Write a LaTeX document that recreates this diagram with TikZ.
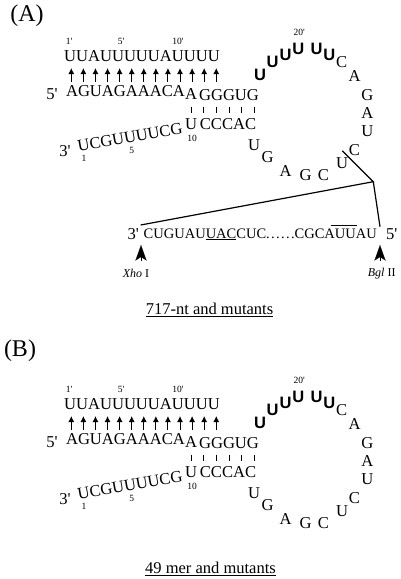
\documentclass[tikz,border=0pt]{standalone}
\usepackage{fontspec}
\setmainfont{Liberation Serif}
\setsansfont{Liberation Sans}
\usetikzlibrary{arrows.meta,positioning}
\newcommand{\pr}{\textquotesingle}

\begin{document}
\begin{tikzpicture}[
    x=1pt, y=-1pt,
    base/.style={inner sep=0pt, font=\fontsize{16.6}{18}\selectfont},
    boldbase/.style={inner sep=0pt, font=\sffamily\bfseries\fontsize{16.5}{18}\selectfont},
    seqline/.style={inner sep=0pt, font=\fontsize{14.5}{18}\selectfont},
    prime/.style={inner sep=0pt, font=\fontsize{16.6}{18}\selectfont},
    numlabel/.style={inner sep=0pt, font=\fontsize{9.5}{11}\selectfont},
    panel/.style={inner sep=0pt, font=\fontsize{24}{28}\selectfont},
    caption/.style={inner sep=0pt, font=\fontsize{16.5}{18}\selectfont},
    enzyme/.style={inner sep=0pt, font=\fontsize{12}{14}\selectfont},
    pairarrow/.style={line width=1pt,-{Latex[length=6pt,width=6pt]}},
    pairtick/.style={line width=0.6pt},
    linker/.style={line width=1.2pt},
    overbar/.style={line width=0.7pt},
    sitearrow/.style={line width=0.1pt,-{Stealth[length=15.5pt,width=11pt,inset=3.5pt]}}
]
\useasboundingbox (0,0) rectangle (400,579);

% Panel titles and captions
\node[panel] (panelA) at (27,16) {(A)};
\node[panel] (panelB) at (20,351) {(B)};
\node[caption] (capA) at (209.5,309.5) {\underline{717-nt and mutants}};
\node[caption] (capB) at (210.5,569) {\underline{49 mer and mutants}};

% Hairpin, the same in both panels
\foreach \p/\dy in {a/0,b/348} {
\begin{scope}[shift={(0,\dy)}]
    \node[numlabel] (\p one) at (69,41.5) {1\pr};
    \node[numlabel] (\p five) at (121,41.5) {5\pr};
    \node[numlabel] (\p ten) at (178,41.5) {10\pr};
    \node[numlabel] (\p twenty) at (299.3,32.3) {20\pr};
    \node[base] (\p top) at (142,56) {UUAUUUUUAUUUU};
    \node[prime] (\p fiveprime) at (52,94) {5\pr};
    \node[base] (\p lowA) at (125.5,91) {AGUAGAAACA};
    \node[base] (\p lowB) at (191,94) {A};
    \node[base] (\p lowC) at (229,95) {GGGUG};
    \node[base] (\p upA) at (191,124) {U};
    \node[base] (\p upB) at (228,124.5) {CCCAC};
    \node[base, rotate=10] (\p slant) at (130,137) {UCGUUUUCG};
    \node[prime] (\p threeprime) at (65,150.7) {3\pr};
    \node[numlabel] (\p nten) at (192,138) {10};
    \node[numlabel] (\p nfive) at (131.7,150.7) {5};
    \node[numlabel] (\p none) at (84,158.7) {1};

    % Loop
    \foreach \i/\x/\y in {1/260/75, 2/272.7/61.7, 3/285.7/55, 4/298.3/49.3, 5/316.7/49.3, 6/329.3/55}
        \node[boldbase] (\p bold\i) at (\x,\y) {U};
    \foreach \i/\b/\x/\y in {1/C/341.7/62.3, 2/A/354.7/76, 3/G/367.3/94.7, 4/A/367.3/113, 5/U/367.3/131.3, 6/C/354.3/150, 7/U/342/163.3, 8/C/323.3/175, 9/G/305.7/175, 10/A/285.7/170.7, 11/G/267.7/157.3, 12/U/254/145}
        \node[base] (\p loop\i) at (\x,\y) {\b};

    % Arrows
    \foreach \i in {0,...,12} {
        \coordinate (\p tail\i) at (71.3+12.08*\i,81.7);
        \coordinate (\p head\i) at (71.3+12.08*\i,68);
        \draw[pairarrow] (\p tail\i) -- (\p head\i);
    }
    \foreach \i/\x in {0/191,1/203.7,2/216,3/229,4/241.7,5/254} {
        \coordinate (\p tickA\i) at (\x,106.7);
        \coordinate (\p tickB\i) at (\x,113.3);
        \draw[pairtick] (\p tickA\i) -- (\p tickB\i);
    }
\end{scope}
}

% Insert of panel A
\node[prime] (insthree) at (133.3,234) {3\pr};
\node[seqline] (insert) at (260.3,234.3) {CUGUAU\underline{UAC}CUC\makebox[28.5pt][s]{.\hfil.\hfil.\hfil.\hfil.\hfil.}CGCAUUAU};
\node[prime] (insfive) at (391.7,234) {5\pr};
\node[enzyme] (xho) at (136,273.3) {\textit{Xho} I};
\node[enzyme] (bgl) at (381.7,273.3) {\textit{Bgl} II};

\coordinate (nearC) at (342.3,150.7);
\coordinate (bend) at (373.3,181.7);
\coordinate (insL) at (140.7,225);
\coordinate (insR) at (380,226.7);
\draw[linker] (nearC) -- (bend) -- (insL);
\draw[linker] (bend) -- (insR);

\coordinate (barL) at (330.7,225);
\coordinate (barR) at (357.3,225);
\draw[overbar] (barL) -- (barR);

\coordinate (xhoT) at (141,245);
\coordinate (xhoB) at (141,260.7);
\coordinate (bglT) at (380,245);
\coordinate (bglB) at (380,260.7);
\draw[sitearrow] (xhoB) -- (xhoT);
\draw[sitearrow] (bglB) -- (bglT);

\end{tikzpicture}
\end{document}
